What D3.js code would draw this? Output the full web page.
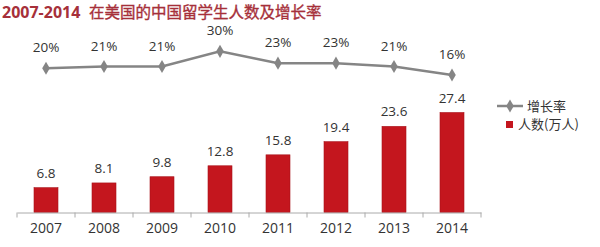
<!DOCTYPE html>
<html>
<head>
<meta charset="utf-8">
<script src="https://cdn.jsdelivr.net/npm/d3@7"></script>
<style>
  body { margin: 0; background: #fff; }
  svg { display: block; font-family: "Noto Sans CJK SC", "Open Sans", sans-serif; }
</style>
</head>
<body>
<div id="chart"></div>
<script>
// Daten
const years   = ['2007', '2008', '2009', '2010', '2011', '2012', '2013', '2014'];
const people  = [6.8, 8.1, 9.8, 12.8, 15.8, 19.4, 23.6, 27.4];   // 万人
const growth  = [20, 21, 21, 30, 23, 23, 21, 16];                // %

const W = 600, H = 247;
const svg = d3.select('#chart').append('svg')
  .attr('width', W).attr('height', H);

// Skalen
const x = d3.scaleBand().domain(years).range([17, 481]);
const yBar = d3.scaleLinear().domain([0, 27.4]).range([212.5, 112.5]);
const yLine = d3.scaleLinear().domain([16, 30]).range([75, 51.3]);

// Titel
const title = svg.append('g').attr('fill', '#a6303a').attr('font-weight', 'bold');
title.append('text')
  .attr('x', 2).attr('y', 17.5)
  .attr('font-size', 16)
  .attr('font-family', '"Open Sans", sans-serif')
  .text('2007-2014');
title.append('text')
  .attr('x', 89).attr('y', 18)
  .attr('font-size', 15.5)
  .attr('font-weight', 'normal')
  .attr('stroke', '#a6303a').attr('stroke-width', 0.35)
  .text('在美国的中国留学生人数及增长率');

// Balken
const barW = 24;
svg.selectAll('rect.bar')
  .data(people)
  .enter().append('rect')
    .attr('class', 'bar')
    .attr('x', (d, i) => x(years[i]) + x.bandwidth() / 2 - barW / 2)
    .attr('y', d => yBar(d))
    .attr('width', barW)
    .attr('height', d => yBar(0) - yBar(d))
    .attr('fill', '#c4161e')
    .attr('stroke', '#a8121a')
    .attr('stroke-width', 0.6);

svg.selectAll('text.val')
  .data(people)
  .enter().append('text')
    .attr('class', 'val')
    .attr('x', (d, i) => x(years[i]) + x.bandwidth() / 2)
    .attr('y', d => yBar(d) - 10)
    .attr('text-anchor', 'middle')
    .attr('font-size', 13.5)
    .attr('font-family', '"Open Sans", sans-serif')
    .attr('fill', '#333')
    .text(d => d.toFixed(1));

// untere Achse
const axis = svg.append('g')
  .attr('transform', `translate(0,${yBar(0)})`)
  .call(d3.axisBottom(x).tickSize(0).tickPadding(11));
axis.select('.domain').attr('stroke', '#aaa');
axis.selectAll('text')
  .attr('font-size', 14)
  .attr('fill', '#333')
  .attr('font-family', '"Open Sans", sans-serif');

// Trennstriche zwischen Kategorien
svg.append('g')
  .selectAll('line')
  .data(d3.range(years.length + 1))
  .enter().append('line')
    .attr('x1', i => x.range()[0] + i * x.step())
    .attr('x2', i => x.range()[0] + i * x.step())
    .attr('y1', yBar(0))
    .attr('y2', yBar(0) + 5)
    .attr('stroke', '#aaa');

// Linie Wachstum
const cx = i => x(years[i]) + x.bandwidth() / 2;
const line = d3.line()
  .x((d, i) => cx(i))
  .y(d => yLine(d));

svg.append('path')
  .datum(growth)
  .attr('d', line)
  .attr('fill', 'none')
  .attr('stroke', '#858585')
  .attr('stroke-width', 2.5);

const diamond = d3.symbol().type(d3.symbolDiamond).size(50);
svg.selectAll('path.pt')
  .data(growth)
  .enter().append('path')
    .attr('class', 'pt')
    .attr('d', diamond)
    .attr('transform', (d, i) => `translate(${cx(i)},${yLine(d)})`)
    .attr('fill', '#858585');

svg.selectAll('text.pct')
  .data(growth)
  .enter().append('text')
    .attr('class', 'pct')
    .attr('x', (d, i) => cx(i))
    .attr('y', d => yLine(d) - 16)
    .attr('text-anchor', 'middle')
    .attr('font-size', 13.5)
    .attr('font-family', '"Open Sans", sans-serif')
    .attr('fill', '#333')
    .text(d => d + '%');

// Legende
const lg = svg.append('g').attr('font-size', 13).attr('fill', '#333');
lg.append('line')
  .attr('x1', 497).attr('x2', 523).attr('y1', 106).attr('y2', 106)
  .attr('stroke', '#858585').attr('stroke-width', 2.5);
lg.append('path')
  .attr('d', diamond)
  .attr('transform', 'translate(510,106)')
  .attr('fill', '#858585');
lg.append('text')
  .attr('x', 527).attr('y', 106).attr('dy', '0.35em')
  .text('增长率');
lg.append('rect')
  .attr('x', 506).attr('y', 121).attr('width', 7).attr('height', 7)
  .attr('fill', '#c4161e');
lg.append('text')
  .attr('x', 518).attr('y', 124.5).attr('dy', '0.35em')
  .text('人数(万人)');
</script>
</body>
</html>
